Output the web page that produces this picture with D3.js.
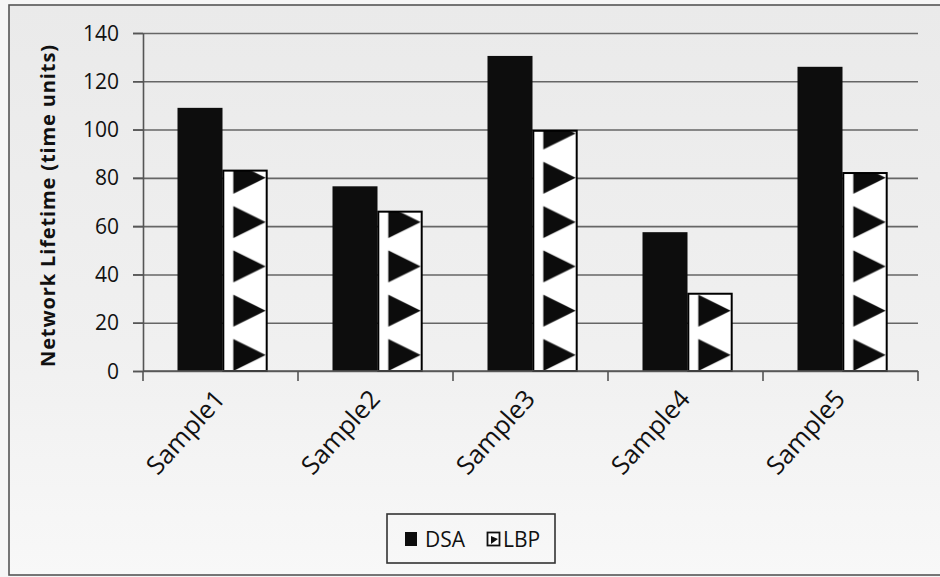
<!DOCTYPE html>
<html>
<head>
<meta charset="utf-8">
<script src="https://cdn.jsdelivr.net/npm/d3@7"></script>
<style>
  html, body { margin: 0; padding: 0; background: #f6f6f6; }
  svg { display: block; }
  text { font-family: "Open Sans", "DejaVu Sans", sans-serif; fill: #111; }
</style>
</head>
<body>
<svg id="chart" width="940" height="577"></svg>
<script>
// Network lifetime per sample, two algorithms
const categories = ["Sample1", "Sample2", "Sample3", "Sample4", "Sample5"];
const seriesNames = ["DSA", "LBP"];
const dsaValues = [109, 76.5, 130.5, 57.5, 126];
const lbpValues = [83, 66, 99.5, 32, 82];
const yTicks = [0, 20, 40, 60, 80, 100, 120, 140];

const rows = categories.map((c, i) => ({ cat: c, DSA: dsaValues[i], LBP: lbpValues[i] }));

const svg = d3.select("#chart");
const W = 940, H = 577;
const plot = { left: 143, right: 918, top: 33, bottom: 371 };

// page frame
const defs = svg.append("defs");
const bg = defs.append("linearGradient").attr("id", "bgGrad")
  .attr("x1", 0).attr("y1", 0).attr("x2", 0).attr("y2", 1);
bg.append("stop").attr("offset", "0%").attr("stop-color", "#eaeaea");
bg.append("stop").attr("offset", "60%").attr("stop-color", "#f0f0f0");
bg.append("stop").attr("offset", "100%").attr("stop-color", "#f8f8f8");

svg.append("rect").attr("x", 9).attr("y", 5).attr("width", W + 10).attr("height", 570)
  .attr("fill", "url(#bgGrad)").attr("stroke", "#555").attr("stroke-width", 1.6);

// scales
const x = d3.scaleBand().domain(categories).range([plot.left, plot.right]).padding(0);
const step = x.step();
const pairW = 90;
const xs = d3.scaleBand().domain(seriesNames)
  .range([(step - pairW) / 2 + 2, (step + pairW) / 2 + 2]).padding(0);
const y = d3.scaleLinear().domain([0, 140]).range([plot.bottom, plot.top]);

// triangle fill for the LBP series, tiled from the baseline upward
// (pattern space is the category group's own coordinates)
const bw = xs.bandwidth();
const period = y(0) - y(18.35);
const triH = 32;
const pat = defs.append("pattern").attr("id", "triFill")
  .attr("patternUnits", "userSpaceOnUse")
  .attr("x", xs("LBP"))
  .attr("y", y(0))
  .attr("width", step).attr("height", period);
pat.append("rect").attr("width", step).attr("height", period).attr("fill", "#fff");
pat.append("path")
  .attr("d", `M${bw * 0.24},${period - triH} L${bw * 0.96},${period - triH / 2} L${bw * 0.24},${period} Z`)
  .attr("fill", "#0c0c0c");

// gridlines
svg.append("g")
  .attr("transform", `translate(${plot.right},0)`)
  .call(d3.axisLeft(y).tickValues(yTicks).tickSize(plot.right - plot.left + 10).tickFormat(""))
  .call(g => g.select(".domain").remove())
  .call(g => g.selectAll("line").attr("stroke", "#666").attr("stroke-width", 1.6));

// y axis with labels
svg.append("g")
  .attr("transform", `translate(${plot.left},0)`)
  .call(d3.axisLeft(y).tickValues(yTicks).tickSize(10).tickSizeOuter(0).tickPadding(14))
  .call(g => g.select(".domain").attr("stroke", "#555").attr("stroke-width", 1.6))
  .call(g => g.selectAll("line").attr("stroke", "#555").attr("stroke-width", 1.6))
  .call(g => g.selectAll("text").attr("font-size", 21).attr("fill", "#111")
    .attr("font-family", "'Open Sans', sans-serif").attr("dy", "0.34em"));

// bars
const groups = svg.append("g").selectAll("g").data(rows).join("g")
  .attr("transform", d => `translate(${x(d.cat)},0)`);

groups.append("rect")
  .attr("x", xs("DSA")).attr("width", bw)
  .attr("y", d => y(d.DSA)).attr("height", d => y(0) - y(d.DSA))
  .attr("fill", "#0d0d0d");

groups.append("rect")
  .attr("x", xs("LBP") + 0.8).attr("width", bw - 1.6)
  .attr("y", d => y(d.LBP)).attr("height", d => y(0) - y(d.LBP))
  .attr("fill", "url(#triFill)")
  .attr("stroke", "#000").attr("stroke-width", 2);

// x axis line with boundary ticks
const xAxisG = svg.append("g");
xAxisG.append("line")
  .attr("x1", plot.left).attr("x2", plot.right)
  .attr("y1", y(0)).attr("y2", y(0))
  .attr("stroke", "#555").attr("stroke-width", 1.6);
const bounds = categories.map(c => x(c)).concat([x(categories[categories.length - 1]) + step]);
xAxisG.selectAll("line.bt").data(bounds).join("line").attr("class", "bt")
  .attr("x1", d => d).attr("x2", d => d)
  .attr("y1", y(0)).attr("y2", y(0) + 10)
  .attr("stroke", "#555").attr("stroke-width", 1.6);

// rotated category labels
xAxisG.selectAll("text.cl").data(categories).join("text").attr("class", "cl")
  .attr("text-anchor", "end")
  .attr("font-size", 25.5)
  .attr("transform", c => `translate(${x(c) + step / 2 + 6},${y(0) + 29}) rotate(-48)`)
  .text(c => c);

// y axis title
svg.append("text")
  .attr("transform", `translate(55,${(y(0) + y(140)) / 2 + 4}) rotate(-90)`)
  .attr("text-anchor", "middle")
  .attr("font-size", 20).attr("font-weight", "bold")
  .attr("textLength", 322).attr("lengthAdjust", "spacing")
  .text("Network Lifetime (time units)");

// legend
const lg = svg.append("g").attr("transform", "translate(387,514)");
lg.append("rect").attr("width", 168).attr("height", 49)
  .attr("fill", "none").attr("stroke", "#333").attr("stroke-width", 1.6);
lg.append("rect").attr("x", 18).attr("y", 18).attr("width", 12).attr("height", 14).attr("fill", "#0d0d0d");
lg.append("text").attr("x", 38).attr("y", 33).attr("font-size", 21).text(seriesNames[0]);
lg.append("rect").attr("x", 100.5).attr("y", 18.5).attr("width", 12).attr("height", 13)
  .attr("fill", "#fff").attr("stroke", "#111").attr("stroke-width", 1.8);
lg.append("path").attr("d", "M104,22 L111,25 L104,30 Z").attr("fill", "#111");
lg.append("text").attr("x", 116).attr("y", 33).attr("font-size", 21).text(seriesNames[1]);
</script>
</body>
</html>
